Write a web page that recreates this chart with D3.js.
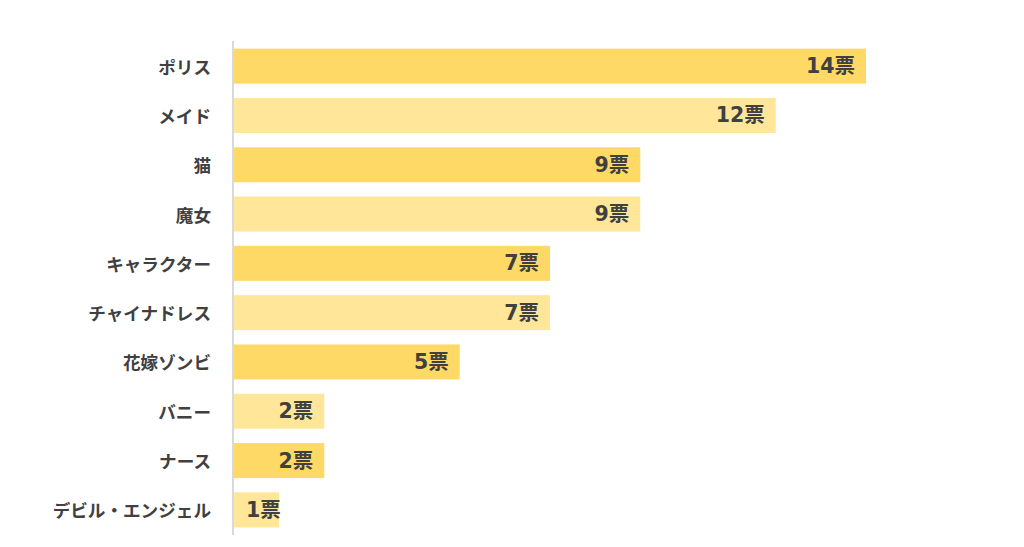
<!DOCTYPE html>
<html><head><meta charset="utf-8">
<script src="https://cdn.jsdelivr.net/npm/d3@7"></script>
<style>body{margin:0;background:#fff}</style>
</head><body>
<svg id="c" width="1024" height="547"></svg>
<script>
const categories = ["ポリス","メイド","猫","魔女","キャラクター","チャイナドレス","花嫁ゾンビ","バニー","ナース","デビル・エンジェル"];
const votes = [14,12,9,9,7,7,5,2,2,1];
const unit = "票";
const colors = ["#FFD966","#FFE699"];

const svg = d3.select("#c");
const x = d3.scaleLinear().domain([0,14]).range([234,866]);
const y = d3.scaleBand().domain(categories).range([41,535]).paddingInner(0.29).paddingOuter(0.155);
const font = "'DejaVu Sans','Noto Sans CJK JP',sans-serif";

svg.selectAll("rect.bar").data(categories).join("rect")
  .attr("class","bar")
  .attr("x", x(0)).attr("y", d=>y(d))
  .attr("width", (d,i)=>x(votes[i])-x(0))
  .attr("height", y.bandwidth())
  .attr("fill", (d,i)=>colors[i%2]);

svg.append("line").attr("x1",233).attr("x2",233).attr("y1",41).attr("y2",535)
  .attr("stroke","#d9d9d9").attr("stroke-width",2);

svg.selectAll("text.cat").data(categories).join("text")
  .attr("class","cat")
  .attr("x",211).attr("y",d=>y(d)+y.bandwidth()/2)
  .attr("text-anchor","end").attr("dominant-baseline","central")
  .attr("font-family","'Noto Sans CJK JP',sans-serif").attr("font-weight","bold")
  .attr("font-size",17.6).attr("fill","#404040")
  .text(d=>d);

const vl = svg.selectAll("text.val").data(categories).join("text")
  .attr("class","val")
  .attr("y",d=>y(d)+y.bandwidth()/2)
  .attr("text-anchor","end").attr("dominant-baseline","central")
  .attr("font-family",font).attr("font-weight","bold")
  .attr("font-size",20.5).attr("fill","#404040")
  .text((d,i)=>votes[i]+unit);
vl.each(function(d,i){
  const w = this.getComputedTextLength();
  const xe = Math.max(x(votes[i])-11, x(0)+12+w);
  d3.select(this).attr("x", xe);
});
</script>
</body></html>
